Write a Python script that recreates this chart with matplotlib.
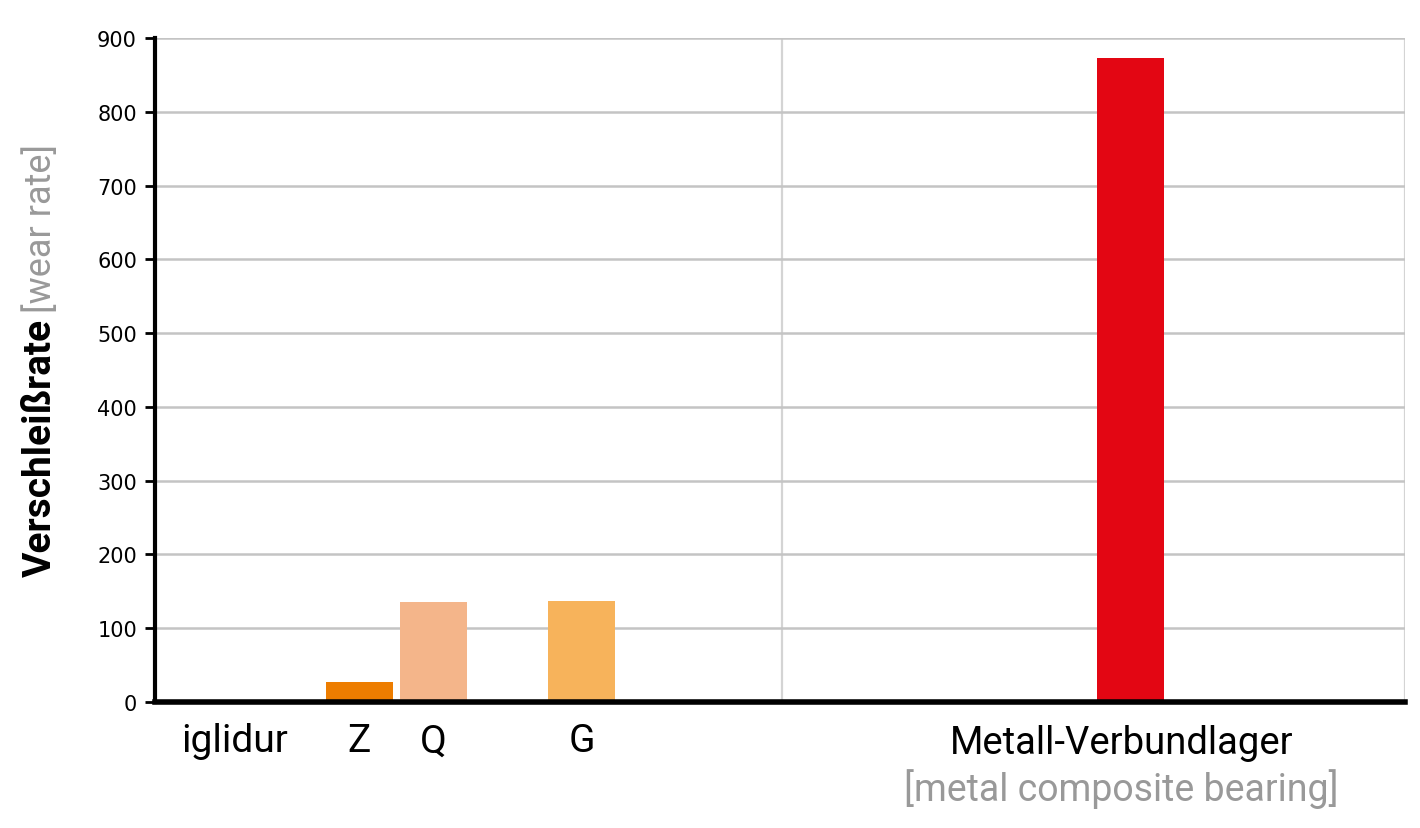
import matplotlib
matplotlib.use("Agg")
import matplotlib.pyplot as plt
import numpy as np

# Data
categories = ["iglidur", "Metall-Verbundlager"]
category_subtitle = "[metal composite bearing]"
series_names = ["Z", "Q", "Metall-Verbundlager", "G"]
series_values = [
    [27.5, 0],   # iglidur Z
    [136, 0],    # iglidur Q
    [0, 873],    # Metall-Verbundlager
    [137, 0],    # iglidur G
]
series_colors = ["#ED7D00", "#F4B58A", "#E30613", "#F7B35B"]
yticks = [0, 100, 200, 300, 400, 500, 600, 700, 800, 900]

W, H = 1420, 829
fig = plt.figure(figsize=(W / 100, H / 100), dpi=100)
ax = fig.add_axes([155 / W, 1 - 703 / H, (1405 - 155) / W, (703 - 39) / H])

n = len(series_names)
cat_px = 623.0
slot = 74 / cat_px
bw = 67 / cat_px
x = np.arange(len(categories))
for i, (vals, col) in enumerate(zip(series_values, series_colors)):
    off = (i - (n - 1) / 2) * slot
    ax.bar(x + off, vals, width=bw, color=col, zorder=3)

ax.set_xlim(1.5 - 1250 / cat_px, 1.5)
ax.set_ylim(0, 900)
ax.set_yticks(yticks)
ax.set_yticklabels([str(v) for v in yticks], fontfamily="DejaVu Sans", fontsize=15)
ax.tick_params(axis="y", direction="out", length=7, width=2, color="black", pad=6)
ax.set_xticks([])
ax.grid(axis="y", color="#c4c4c4", linewidth=1.8, zorder=0)
# category separators
for b in [0.5, 1.5]:
    ax.axvline(b, color="#d4d4d4", linewidth=1.6, zorder=0)

for s in ["top", "right"]:
    ax.spines[s].set_visible(False)
ax.spines["left"].set_linewidth(3)
ax.spines["bottom"].set_linewidth(4)
ax.spines["left"].set_zorder(5)
ax.spines["bottom"].set_zorder(5)

# Category labels
trans = matplotlib.transforms.blended_transform_factory(ax.transData, fig.transFigure)
lab_y = 1 - 742 / H
x0 = ax.get_xlim()[0]
ax.text(x0 + (235 - 155) / cat_px, lab_y, categories[0], transform=trans, ha="center", va="center",
        fontfamily="Roboto", fontsize=28, color="black")
for i, name in enumerate(series_names):
    if series_values[i][0] > 0:
        off = (i - (n - 1) / 2) * slot
        ax.text(0 + off, lab_y, name, transform=trans, ha="center", va="center",
                fontfamily="Roboto", fontsize=28, color="black")
ax.text(1.045, 1 - 744 / H, categories[1], transform=trans, ha="center", va="center",
        fontfamily="Roboto", fontsize=27.5, color="black")
ax.text(1.045, 1 - 789 / H, category_subtitle, transform=trans, ha="center", va="center",
        fontfamily="Roboto", fontsize=27, color="#999999")

# Y axis label (two colours)
t1 = fig.text(40 / W, 1 - 577 / H, "Verschleißrate", rotation=90, ha="center", va="bottom",
              fontfamily="Roboto", fontweight="bold", fontsize=28, color="black")
fig.canvas.draw()
bb = t1.get_window_extent(fig.canvas.get_renderer())
fig.text(41 / W, (bb.y1 + 6) / H, "[wear rate]", rotation=90, ha="center", va="bottom",
         fontfamily="Roboto", fontsize=26, color="#999999")

fig.savefig("out.png", dpi=100)
